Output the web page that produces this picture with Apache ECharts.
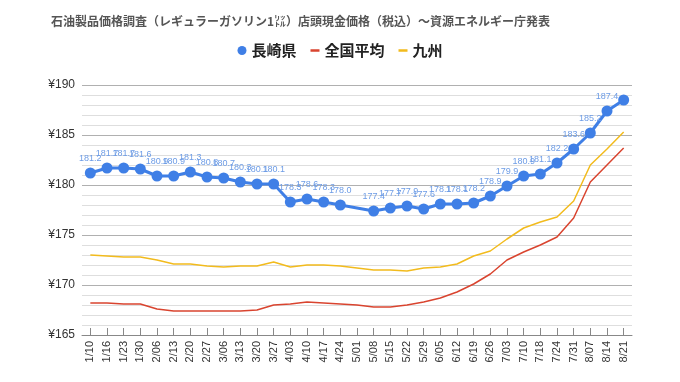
<!DOCTYPE html>
<html>
<head>
<meta charset="utf-8">
<script src="https://cdn.jsdelivr.net/npm/echarts@6/dist/echarts.min.js"></script>
<style>
html,body{margin:0;padding:0;background:#fff;}
#chart{width:680px;height:382px;}
</style>
</head>
<body>
<div id="chart"></div>
<script>
var titleText = '石油製品価格調査（レギュラーガソリン1㍑）店頭現金価格（税込）～資源エネルギー庁発表';
var categories = ['1/10','1/16','1/23','1/30','2/06','2/13','2/20','2/27','3/06','3/13','3/20','3/27','4/03','4/10','4/17','4/24','5/01','5/08','5/15','5/22','5/29','6/05','6/12','6/19','6/26','7/03','7/10','7/18','7/24','7/31','8/07','8/14','8/21'];
var seriesNames = ['長崎県','全国平均','九州'];
var nagasaki = [181.2,181.7,181.7,181.6,180.9,180.9,181.3,180.8,180.7,180.3,180.1,180.1,178.3,178.6,178.3,178.0,null,177.4,177.7,177.9,177.6,178.1,178.1,178.2,178.9,179.9,180.9,181.1,182.2,183.6,185.2,187.4,188.5];
var national = [168.2,168.2,168.1,168.1,167.6,167.4,167.4,167.4,167.4,167.4,167.5,168.0,168.1,168.3,168.2,168.1,168.0,167.8,167.8,168.0,168.3,168.7,169.3,170.1,171.1,172.5,173.3,174.0,174.8,176.7,180.3,182.0,183.7];
var kyushu = [173.0,172.9,172.8,172.8,172.5,172.1,172.1,171.9,171.8,171.9,171.9,172.3,171.8,172.0,172.0,171.9,171.7,171.5,171.5,171.4,171.7,171.8,172.1,172.9,173.4,174.6,175.7,176.3,176.8,178.4,182.0,183.6,185.3];
var yMin = 165, yMax = 190, yStep = 5;

var nagasakiData = nagasaki.map(function(v, i){
  if (i === nagasaki.length - 1) return {value: v, label: {show: false}};
  return v;
});
var dashIcon = 'path://M0,0L0.01,0L0.01,0.01L0,0.01ZM0,3.6L10,3.6L10,6.4L0,6.4ZM0,10L0.01,10L0.01,9.99L0,9.99Z';

var chart = echarts.init(document.getElementById('chart'), null, {renderer: 'canvas'});
chart.setOption({
  animation: false,
  backgroundColor: '#ffffff',
  textStyle: {fontFamily: 'Noto Sans CJK JP, Arial, sans-serif'},
  title: {
    text: titleText,
    left: 46, top: 10,
    textStyle: {fontSize: 12, fontWeight: 'bold', color: '#555555', fontFamily: 'Noto Sans CJK JP'}
  },
  legend: {
    left: 'center', top: 38,
    itemWidth: 9, itemHeight: 9, itemGap: 14,
    textStyle: {fontSize: 15, fontWeight: 'bold', color: '#222', fontFamily: 'Noto Sans CJK JP'},
    data: [
      {name: seriesNames[0], icon: 'circle'},
      {name: seriesNames[1], icon: dashIcon},
      {name: seriesNames[2], icon: dashIcon}
    ]
  },
  grid: {left: 82, right: 48, top: 85, bottom: 47},
  xAxis: {
    type: 'category',
    data: categories,
    boundaryGap: true,
    axisLine: {lineStyle: {color: '#888', width: 1}},
    axisTick: {show: true, inside: true, length: 7, alignWithLabel: true, lineStyle: {color: '#888'}},
    axisLabel: {rotate: 90, fontSize: 11, color: '#333', margin: 6, interval: 0, fontFamily: 'Arial'}
  },
  yAxis: {
    type: 'value',
    min: yMin, max: yMax, interval: yStep,
    axisLine: {show: false},
    axisTick: {show: false},
    minorTick: {show: false, splitNumber: 5},
    minorSplitLine: {show: true, lineStyle: {color: '#dedede', width: 1}},
    splitLine: {lineStyle: {color: '#b0b0b0', width: 1}},
    axisLabel: {fontSize: 12, color: '#333', margin: 7, fontFamily: 'Arial', formatter: function(v){return '¥' + v;}}
  },
  series: [
    {
      name: seriesNames[0], type: 'line', data: nagasakiData, connectNulls: true,
      symbol: 'circle', symbolSize: 11, z: 5,
      itemStyle: {color: '#3f7fe6'},
      lineStyle: {color: '#3f7fe6', width: 3},
      label: {show: true, position: 'top', distance: 4, fontSize: 9, color: '#6d9ce6', fontFamily: 'Arial',
        formatter: function(p){ var v = Array.isArray(p.value) ? p.value[1] : p.value; return Number(v).toFixed(1); }}
    },
    {
      name: seriesNames[1], type: 'line', data: national,
      symbol: 'none', itemStyle: {color: '#d9442f'},
      lineStyle: {color: '#d9442f', width: 1.5}
    },
    {
      name: seriesNames[2], type: 'line', data: kyushu,
      symbol: 'none', itemStyle: {color: '#f2bb1d'},
      lineStyle: {color: '#f2bb1d', width: 1.5}
    }
  ]
});
</script>
</body>
</html>
